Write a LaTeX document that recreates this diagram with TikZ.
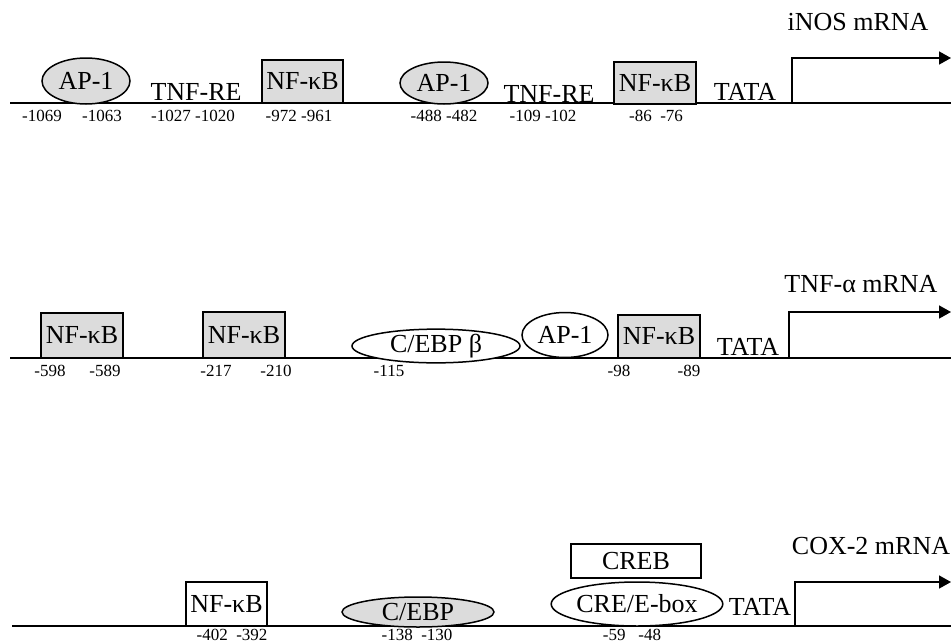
\documentclass[tikz,border=0pt]{standalone}
\usepackage{fontspec}
\setmainfont{Liberation Serif}
\usetikzlibrary{shapes.geometric,arrows.meta}
\definecolor{sitegray}{HTML}{DCDCDC}
\tikzset{
  lbl/.style={font=\fontsize{26}{26}\selectfont, inner sep=0pt},
  mrna/.style={font=\fontsize{26}{26}\selectfont, inner sep=0pt},
  num/.style={font=\fontsize{17}{17}\selectfont, inner sep=0pt},
  sitebox/.style={draw=black, line width=1.6pt, rectangle, inner sep=0pt, font=\fontsize{26}{26}\selectfont},
  siteell/.style={draw=black, line width=1.5pt, ellipse, inner sep=0pt, font=\fontsize{26}{26}\selectfont},
  dna/.style={line width=1.6pt},
  tss/.style={line width=1.6pt, -{Triangle[length=12pt,width=13pt]}},
}
\begin{document}
\begin{tikzpicture}[x=1pt,y=-1pt]
\useasboundingbox (0,0) rectangle (951,643);
% ---------- Row 1: iNOS ----------
\coordinate (b1s) at (10,103);
\coordinate (b1e) at (951,103);
\draw[dna] (b1s) -- (b1e);
\node[siteell, fill=sitegray, minimum width=88pt, minimum height=46pt] (ap1a) at (86,81) {AP-1};
\node[lbl] (tnfrea) at (196,92) {TNF-RE};
\node[sitebox, fill=sitegray, minimum width=81pt, minimum height=43pt] (nfkba) at (302.5,81.5) {NF-κB};
\node[siteell, fill=sitegray, minimum width=88pt, minimum height=42pt] (ap1b) at (444,83) {AP-1};
\node[lbl] (tnfreb) at (549,94) {TNF-RE};
\node[sitebox, fill=sitegray, minimum width=82pt, minimum height=42pt] (nfkbb) at (655,83) {NF-κB};
\node[lbl] (tata1) at (745,92) {TATA};
\coordinate (t1a) at (792,103);
\coordinate (t1b) at (792,58);
\coordinate (t1c) at (951,58);
\draw[tss] (t1a) -- (t1b) -- (t1c);
\node[mrna] (inos) at (858,22) {iNOS mRNA};
\node[num] (n1a) at (42,116) {-1069};
\node[num] (n1b) at (102,116) {-1063};
\node[num] (n1c) at (193,116) {-1027 -1020};
\node[num] (n1d) at (299,116) {-972 -961};
\node[num] (n1e) at (444,116) {-488 -482};
\node[num] (n1f) at (543,116) {-109 -102};
\node[num] (n1g) at (656,116) {-86 \ -76};
% ---------- Row 2: TNF-alpha ----------
\coordinate (b2s) at (10,358);
\coordinate (b2e) at (951,358);
\draw[dna] (b2s) -- (b2e);
\node[sitebox, fill=sitegray, minimum width=82pt, minimum height=45pt] (nfkbc) at (82,335.5) {NF-κB};
\node[sitebox, fill=sitegray, minimum width=82pt, minimum height=46pt] (nfkbd) at (244,335) {NF-κB};
\node[siteell, fill=white, minimum width=168pt, minimum height=25pt] (cebpb) at (436,346) {C/EBP β};
\node[siteell, fill=white, minimum width=86pt, minimum height=45pt] (ap1c) at (565,335) {AP-1};
\node[sitebox, fill=sitegray, minimum width=82pt, minimum height=43pt] (nfkbe) at (659,336.5) {NF-κB};
\node[lbl] (tata2) at (748,347) {TATA};
\coordinate (t2a) at (789,358);
\coordinate (t2b) at (789,312);
\coordinate (t2c) at (951,312);
\draw[tss] (t2a) -- (t2b) -- (t2c);
\node[mrna] (tnfa) at (861,284) {TNF-α mRNA};
\node[num] (n2a) at (50,371) {-598};
\node[num] (n2b) at (105,371) {-589};
\node[num] (n2c) at (216,371) {-217};
\node[num] (n2d) at (276,371) {-210};
\node[num] (n2e) at (389,371) {-115};
\node[num] (n2f) at (619,371) {-98};
\node[num] (n2g) at (689,371) {-89};
% ---------- Row 3: COX-2 ----------
\coordinate (b3s) at (12,626);
\coordinate (b3e) at (951,626);
\draw[dna] (b3s) -- (b3e);
\node[sitebox, fill=white, minimum width=81pt, minimum height=44pt] (nfkbf) at (226.5,604) {NF-κB};
\node[siteell, fill=sitegray, minimum width=152pt, minimum height=30pt] (cebp) at (418,612) {C/EBP};
\node[siteell, fill=white, minimum width=158pt, minimum height=44pt] (crebox) at (637,604) {CRE/E-box};
\node[sitebox, fill=white, minimum width=130pt, minimum height=34pt] (creb) at (636,561) {CREB};
\node[lbl] (tata3) at (760,607) {TATA};
\coordinate (t3a) at (795,626);
\coordinate (t3b) at (795,582);
\coordinate (t3c) at (951,582);
\draw[tss] (t3a) -- (t3b) -- (t3c);
\node[mrna] (cox) at (871,546) {COX-2 mRNA};
\node[num] (n3a) at (232,635) {-402 \ -392};
\node[num] (n3b) at (417,635) {-138 \ -130};
\node[num] (n3c) at (632,635) {-59 \ \ -48};
\end{tikzpicture}
\end{document}
